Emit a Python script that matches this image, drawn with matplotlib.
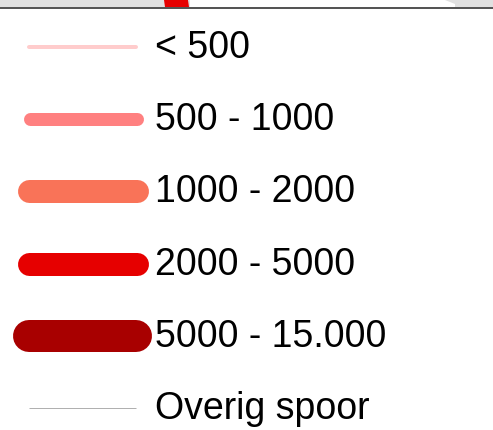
import matplotlib.pyplot as plt
from matplotlib.patches import Polygon

# legenda: intensiteit per klasse
labels = ['< 500', '500 - 1000', '1000 - 2000', '2000 - 5000', '5000 - 15.000', 'Overig spoor']
colors = ['#ffcccc', '#ff8080', '#f97358', '#e60000', '#a80000', '#b0b0b0']
thickness_px = [4, 13, 23, 23, 32, 1]
x_left = [27, 23, 17, 17, 13, 29]
x_right = [138, 143, 148, 148, 152, 136]
row_y = [47, 119, 191, 264, 336, 408]

W, H = 493, 430
fig = plt.figure(figsize=(W / 100, H / 100), dpi=100)
ax = fig.add_axes([0, 0, 1, 1])
ax.set_xlim(0, W)
ax.set_ylim(H, 0)
ax.axis('off')

# stukje kaart bovenaan
ax.add_patch(Polygon([(0, 0), (W, 0), (W, 7), (0, 7)], color='#e0e0e0', lw=0))
ax.add_patch(Polygon([(190, 0), (445, 0), (455, 4), (455, 7), (190, 7)], color='white', lw=0))
ax.add_patch(Polygon([(164, 0), (188, 0), (189, 7), (165, 7)], color='#e60000', lw=0))
ax.plot([0, W], [7.5, 7.5], color='#333333', lw=1.2)

px2pt = 72 / 100
for lab, c, t, xl, xr, y in zip(labels, colors, thickness_px, x_left, x_right, row_y):
    cap = t / 2 if t > 2 else 0
    ax.plot([xl + cap, xr - cap], [y, y], color=c, lw=t * px2pt,
            solid_capstyle='round' if t > 2 else 'butt')
    ax.text(155, y + 1, lab, fontsize=27, family=['Liberation Sans', 'DejaVu Sans'],
            va='center', ha='left', color='black')

fig.savefig('out.png', dpi=100)
